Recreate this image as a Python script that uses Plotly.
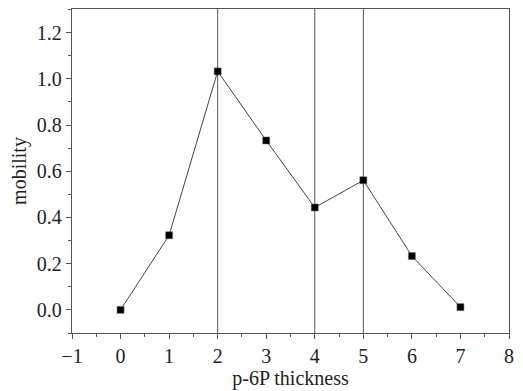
import plotly.graph_objects as go

thickness = [0, 1, 2, 3, 4, 5, 6, 7]
mobility = [0.0, 0.323, 1.032, 0.733, 0.443, 0.561, 0.233, 0.012]
vlines_x = [2, 4, 5]
x_ticks = [-1, 0, 1, 2, 3, 4, 5, 6, 7, 8]
y_ticks = [0.0, 0.2, 0.4, 0.6, 0.8, 1.0, 1.2]

font_family = "Liberation Serif, Times New Roman, serif"
text_color = "#222222"
axis_color = "#555555"

fig = go.Figure()
fig.add_trace(go.Scatter(
    x=thickness, y=mobility, mode="lines+markers",
    line=dict(color="#444444", width=1),
    marker=dict(symbol="square", size=7, color="black",
                line=dict(color="#666666", width=0.5)),
    showlegend=False,
))
for xv in vlines_x:
    fig.add_shape(type="line", x0=xv, x1=xv, y0=0, y1=1, xref="x", yref="paper",
                  line=dict(color=axis_color, width=1), layer="below")

axis_common = dict(
    showline=True, linecolor=axis_color, linewidth=1.3, mirror=True,
    ticks="outside", ticklen=5, tickwidth=1, tickcolor=axis_color,
    showgrid=False, zeroline=False,
    tickfont=dict(family=font_family, size=20, color=text_color),
)

fig.update_xaxes(
    range=[-1, 8], tickvals=x_ticks,
    ticktext=[("\u2212" if v < 0 else "") + str(abs(v)) for v in x_ticks],
    minor=dict(dtick=0.5, ticks="outside", ticklen=3, tickcolor=axis_color, showgrid=False),
    title=dict(text="p-6P thickness", font=dict(family=font_family, size=20, color=text_color), standoff=1),
    **axis_common,
)
fig.update_yaxes(
    range=[-0.1, 1.302], tickvals=y_ticks, ticktext=[f"{v:.1f}" for v in y_ticks],
    minor=dict(dtick=0.1, ticks="outside", ticklen=3, tickcolor=axis_color, showgrid=False),
    title=dict(text="mobility", font=dict(family=font_family, size=20, color=text_color), standoff=4),
    **axis_common,
)
# page has an 8px body margin, so the figure is sized to fit the 523x391 window
fig.update_layout(
    width=515, height=383,
    margin=dict(l=64, r=14, t=0.5, b=58),
    paper_bgcolor="white", plot_bgcolor="white",
    font=dict(family=font_family),
)
fig.write_html("out.html")
